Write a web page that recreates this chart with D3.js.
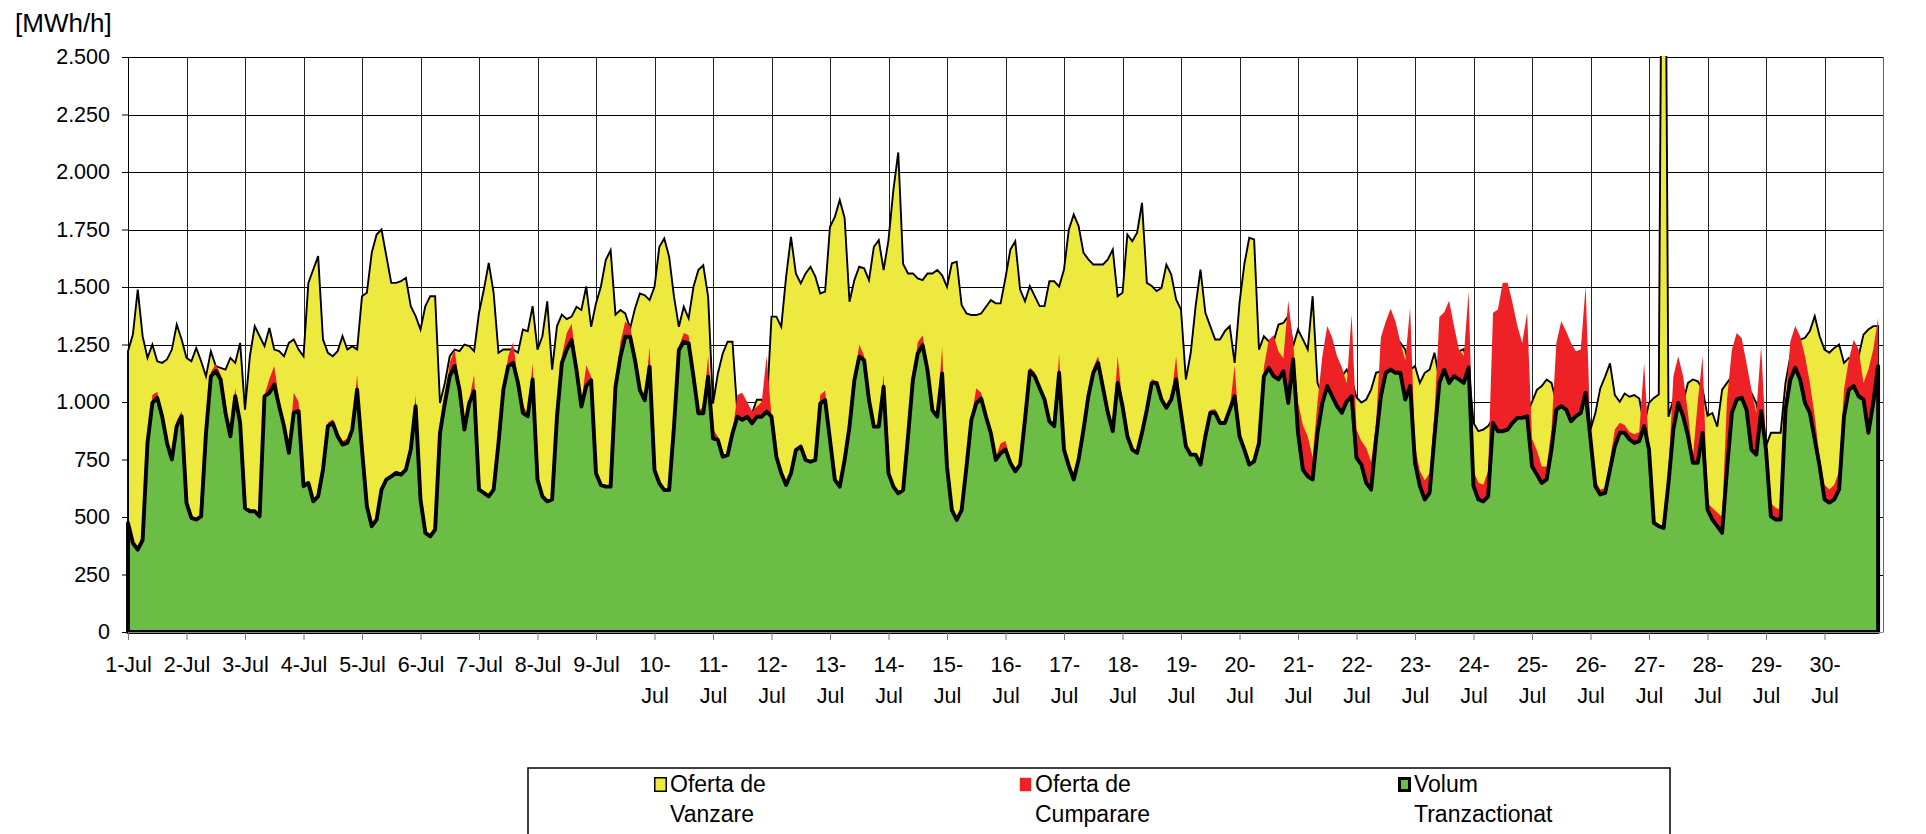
<!DOCTYPE html>
<html lang="ro">
<head>
<meta charset="utf-8">
<title>Volum tranzactionat - iulie</title>
<script src="https://cdn.jsdelivr.net/npm/d3@7"></script>
<style>
  body { margin: 0; background: #fff; }
  svg { display: block; font-family: "Liberation Sans", Arial, sans-serif; }
</style>
</head>
<body>
<svg id="chart" width="1926" height="834"></svg>
<script>
// etichete zile (axa x)
const zile = ["1-Jul","2-Jul","3-Jul","4-Jul","5-Jul","6-Jul","7-Jul","8-Jul","9-Jul","10-Jul",
  "11-Jul","12-Jul","13-Jul","14-Jul","15-Jul","16-Jul","17-Jul","18-Jul","19-Jul","20-Jul",
  "21-Jul","22-Jul","23-Jul","24-Jul","25-Jul","26-Jul","27-Jul","28-Jul","29-Jul","30-Jul"];
const yTicks = [0, 250, 500, 750, 1000, 1250, 1500, 1750, 2000, 2250, 2500];
const pas = 2; // ore intre doua puncte citite

// MWh/h, cate 12 valori pe zi (la 2 ore)
const ofertaVanzare = [
  1221,1293,1489,1286,1192,1250,1177,1170,1185,1228,1337,1272,
  1192,1177,1235,1177,1112,1221,1156,1148,1141,1192,1170,1257,
  967,1199,1330,1286,1243,1322,1228,1221,1199,1257,1272,1228,
  1199,1518,1576,1634,1272,1214,1199,1221,1286,1228,1243,1228,
  1460,1475,1649,1728,1750,1634,1518,1518,1525,1540,1417,1373,
  1315,1417,1460,1460,996,1083,1199,1228,1221,1250,1243,1221,
  1388,1489,1605,1475,1214,1228,1228,1228,1214,1315,1308,1417,
  1228,1286,1438,1141,1330,1380,1360,1371,1414,1400,1502,1327,
  1429,1501,1617,1660,1380,1400,1385,1320,1407,1472,1464,1443,
  1501,1675,1711,1632,1458,1327,1414,1364,1501,1574,1595,1458,
  993,1124,1211,1262,1262,951,936,951,951,1010,1010,965,
  1371,1371,1327,1545,1718,1559,1516,1559,1588,1545,1472,1480,
  1762,1805,1878,1800,1436,1530,1588,1581,1530,1675,1704,1574,
  1704,1921,2085,1600,1559,1559,1537,1530,1559,1559,1574,1551,
  1501,1603,1610,1422,1385,1378,1378,1385,1414,1443,1429,1429,
  1540,1663,1699,1489,1438,1504,1460,1417,1417,1525,1525,1502,
  1576,1750,1815,1765,1649,1620,1598,1598,1598,1620,1663,1460,
  1475,1728,1699,1736,1866,1518,1504,1482,1496,1597,1554,1446,
  1402,1098,1214,1417,1576,1388,1330,1272,1272,1308,1330,1170,
  1431,1600,1714,1707,1228,1286,1264,1264,1337,1344,1373,1243,
  1315,1272,1228,1460,1083,1030,1100,1055,1010,1112,1141,1098,
  1020,998,1011,1054,1127,1134,1163,1148,1206,1257,1228,1141,
  1156,1083,1127,1141,1214,1098,1150,1110,1130,1220,1230,1150,
  909,873,880,895,930,900,900,900,930,950,950,950,
  1000,1053,1069,1098,1083,1000,1000,990,940,960,980,1060,
  880,952,1059,1110,1168,1030,1001,1037,1023,1030,1015,900,
  996,1018,1033,4500,936,1011,1010,1000,1083,1098,1090,1055,
  940,952,893,1054,1083,1112,1100,1080,1060,1040,995,909,
  808,866,866,866,1083,1199,1286,1271,1279,1308,1373,1286,
  1228,1214,1235,1250,1170,1192,1180,1200,1293,1315,1330,1330
];

const ofertaCumparare = [
  474,387,358,400,840,1030,1045,945,822,760,920,960,
  561,496,489,503,870,1130,1165,1120,960,855,1060,915,
  539,525,525,503,1030,1100,1156,1010,910,790,1040,1000,
  634,648,568,590,706,910,925,870,830,840,890,1120,
  793,547,460,489,619,663,677,692,684,706,793,1030,
  576,431,416,445,870,1010,1170,1230,1070,885,1010,1120,
  619,605,590,619,822,1060,1200,1260,1090,990,945,1170,
  663,590,568,576,945,1200,1300,1340,1160,1000,1160,1110,
  690,639,632,632,1070,1260,1350,1330,1200,1060,1015,1240,
  704,646,617,617,893,1240,1300,1290,1120,960,980,1200,
  880,850,762,769,870,1030,1040,1000,960,980,1000,1200,
  936,762,690,639,690,791,806,748,740,748,1030,1050,
  835,661,632,748,900,1100,1250,1200,1010,895,900,1120,
  690,632,603,617,849,1100,1260,1290,1150,970,945,1240,
  719,530,487,530,719,930,1060,1040,940,870,760,820,
  830,750,710,740,930,1150,1130,1070,1020,925,900,1210,
  800,725,665,755,885,1030,1150,1200,1070,960,880,1200,
  990,855,800,785,870,970,1100,1090,1020,980,1015,1200,
  960,810,775,775,730,855,965,970,915,912,970,1160,
  855,800,735,745,830,1150,1270,1290,1220,1190,1440,1260,
  1000,900,850,760,1000,1200,1330,1280,1200,1150,1080,1380,
  880,830,800,740,900,1280,1350,1405,1350,1260,1180,1410,
  810,700,660,690,950,1370,1390,1440,1330,1230,1200,1480,
  700,650,640,700,1388,1402,1518,1518,1432,1330,1257,1388,
  840,790,720,720,880,1257,1351,1308,1257,1221,1228,1504,
  860,660,620,625,750,880,910,900,870,860,870,1170,
  800,480,470,460,700,1112,1199,1112,951,760,1000,1200,
  560,540,520,500,1010,1228,1300,1278,1170,1054,953,1243,
  830,560,540,530,1000,1264,1330,1286,1200,1083,938,760,
  640,620,640,700,1054,1185,1271,1228,1083,1141,1228,1366
];

const volum = [
  474,387,358,400,822,996,1018,938,822,750,895,938,
  561,496,489,503,866,1112,1134,1098,953,851,1025,909,
  539,525,525,503,1025,1040,1076,982,895,779,953,960,
  634,648,568,590,706,895,909,851,815,822,880,1054,
  793,547,460,489,619,663,677,692,684,706,793,982,
  576,431,416,445,866,996,1112,1156,1054,880,996,1047,
  619,605,590,619,822,1054,1156,1170,1083,953,938,1098,
  663,590,568,576,938,1170,1228,1269,1139,980,1070,1095,
  690,639,632,632,1066,1197,1284,1284,1182,1052,1008,1153,
  704,646,617,617,893,1226,1262,1255,1110,951,951,1110,
  842,835,762,769,864,936,922,936,907,936,936,958,
  936,762,690,639,690,791,806,748,740,748,994,1008,
  835,661,632,748,893,1095,1197,1182,1008,893,893,1066,
  690,632,603,617,849,1095,1211,1247,1139,965,936,1124,
  719,530,487,530,719,922,994,1016,936,864,748,777,
  793,735,699,728,924,1134,1112,1061,1011,916,895,1127,
  793,721,663,750,880,1025,1127,1170,1061,953,873,1083,
  982,851,793,779,866,967,1083,1083,1011,975,1011,1098,
  953,808,771,771,728,851,953,953,909,909,967,1025,
  851,793,728,742,822,1112,1148,1112,1098,1134,996,1185,
  866,706,677,663,866,996,1069,1025,982,953,1003,1025,
  757,728,648,619,837,1025,1127,1141,1127,1127,1011,1069,
  735,634,576,605,851,1083,1140,1083,1112,1098,1083,1150,
  634,576,568,590,909,873,873,880,909,931,931,938,
  721,685,648,663,793,967,982,967,916,938,953,1040,
  837,634,598,605,706,808,866,866,837,822,830,895,
  793,474,460,452,648,880,996,938,851,736,736,866,
  532,489,460,431,706,953,1011,1018,967,793,771,960,
  793,503,489,489,967,1098,1149,1098,996,953,837,721,
  577,563,577,620,938,1054,1069,1025,1011,866,996,1156
];

const serii = ["Oferta de|Vanzare", "Oferta de|Cumparare", "Volum|Tranzactionat"];
const culori = ["#eee93f", "#ee2226", "#6cbd45"];

const mLeft = 128, mRight = 1883, mTop = 57, mBottom = 632;
const svg = d3.select("#chart");

const x = d3.scaleLinear().domain([0, zile.length * 24]).range([mLeft, mRight]);
const y = d3.scaleLinear().domain([0, 2500]).range([mBottom, mTop]);

const fmt = d3.formatLocale({decimal: ",", thousands: ".", grouping: [3], currency: ["", ""]}).format(",d");

// grid
const grid = svg.append("g").attr("shape-rendering", "crispEdges");
grid.selectAll("line.h").data(yTicks.filter(d => d > 0)).enter()
  .append("line")
  .attr("x1", mLeft).attr("x2", mRight)
  .attr("y1", d => Math.round(y(d)) + 0.5).attr("y2", d => Math.round(y(d)) + 0.5)
  .attr("stroke", "#000").attr("stroke-width", 1);
grid.selectAll("line.v").data(zile.map((d, i) => (i + 1) * 24)).enter()
  .append("line")
  .attr("x1", d => Math.round(x(d)) + 0.5).attr("x2", d => Math.round(x(d)) + 0.5)
  .attr("y1", mTop).attr("y2", mBottom)
  .attr("stroke", "#222").attr("stroke-width", 1);

// zone
svg.append("clipPath").attr("id", "plot")
  .append("rect").attr("x", mLeft - 5).attr("y", mTop - 1)
  .attr("width", mRight - mLeft + 10).attr("height", mBottom - mTop + 10);

const area = d3.area()
  .x((d, i) => x(i * pas))
  .y0(y(0))
  .y1(d => y(d));

const zone = svg.append("g").attr("clip-path", "url(#plot)");
zone.append("path").datum(ofertaVanzare)
  .attr("d", area)
  .attr("fill", culori[0]).attr("stroke", "#000").attr("stroke-width", 1.9)
  .attr("stroke-linejoin", "miter");
zone.append("path").datum(ofertaCumparare)
  .attr("d", area)
  .attr("fill", culori[1]);
zone.append("path").datum(volum)
  .attr("d", area)
  .attr("fill", culori[2]).attr("stroke", "#000").attr("stroke-width", 3.9)
  .attr("stroke-linejoin", "round");

// axa y
const axY = svg.append("g").attr("transform", `translate(${mLeft},0)`)
  .call(d3.axisLeft(y).tickValues(yTicks).tickSize(6).tickPadding(12).tickFormat(fmt));
axY.select(".domain").attr("stroke", "#000");
axY.selectAll(".tick line").attr("stroke", "#000");
axY.selectAll(".tick text").attr("font-size", "21.5px").attr("fill", "#000")
  .attr("font-family", "Liberation Sans, Arial, sans-serif");

svg.append("text").attr("x", 15).attr("y", 32)
  .attr("font-size", "26px").attr("fill", "#000").text("[MWh/h]");

// axa x
const axX = svg.append("g").attr("transform", `translate(0,${mBottom})`)
  .call(d3.axisBottom(x).tickValues(zile.map((d, i) => i * 24)).tickSize(8).tickSizeOuter(0)
    .tickFormat((d, i) => zile[i]));
axX.select(".domain").attr("stroke", "#888");
axX.selectAll(".tick line").attr("stroke", "#777");
axX.selectAll(".tick text").each(function(d, i) {
  const t = d3.select(this);
  const lab = zile[i];
  t.text(null).attr("y", 39.5).attr("dy", null)
    .attr("font-size", "21.5px").attr("fill", "#000")
    .attr("font-family", "Liberation Sans, Arial, sans-serif");
  if (lab.length > 5) {
    const p = lab.split("-");
    t.append("tspan").attr("x", 0).attr("dy", 0).text(p[0] + "-");
    t.append("tspan").attr("x", 0).attr("dy", 31).text(p[1]);
  } else {
    t.append("tspan").attr("x", 0).text(lab);
  }
});

// chenar dreapta
svg.append("line").attr("x1", mRight + 0.5).attr("x2", mRight + 0.5).attr("y1", mTop).attr("y2", mBottom)
  .attr("stroke", "#666").attr("shape-rendering", "crispEdges");

// legenda
const leg = svg.append("g");
leg.append("rect").attr("x", 528).attr("y", 768).attr("width", 1142).attr("height", 100)
  .attr("fill", "#fff").attr("stroke", "#000").attr("stroke-width", 1.5);
const legX = [654, 1019, 1398];
const items = leg.selectAll("g.item").data(serii).enter().append("g")
  .attr("transform", (d, i) => `translate(${legX[i]},777)`);
items.append("rect")
  .attr("x", (d, i) => i === 2 ? 1.5 : 0.75).attr("y", (d, i) => i === 2 ? 1.5 : 0.75)
  .attr("width", (d, i) => i === 2 ? 10 : 11.5).attr("height", (d, i) => i === 2 ? 12 : 13.5)
  .attr("fill", (d, i) => culori[i])
  .attr("stroke", (d, i) => i === 1 ? "none" : "#000")
  .attr("stroke-width", (d, i) => i === 2 ? 3 : 1.5);
const lt = items.append("text").attr("x", 16).attr("y", 15)
  .attr("font-size", "23px").attr("fill", "#000");
lt.append("tspan").attr("x", 16).text(d => d.split("|")[0]);
lt.append("tspan").attr("x", 16).attr("dy", 29.5).text(d => d.split("|")[1]);
</script>
</body>
</html>
